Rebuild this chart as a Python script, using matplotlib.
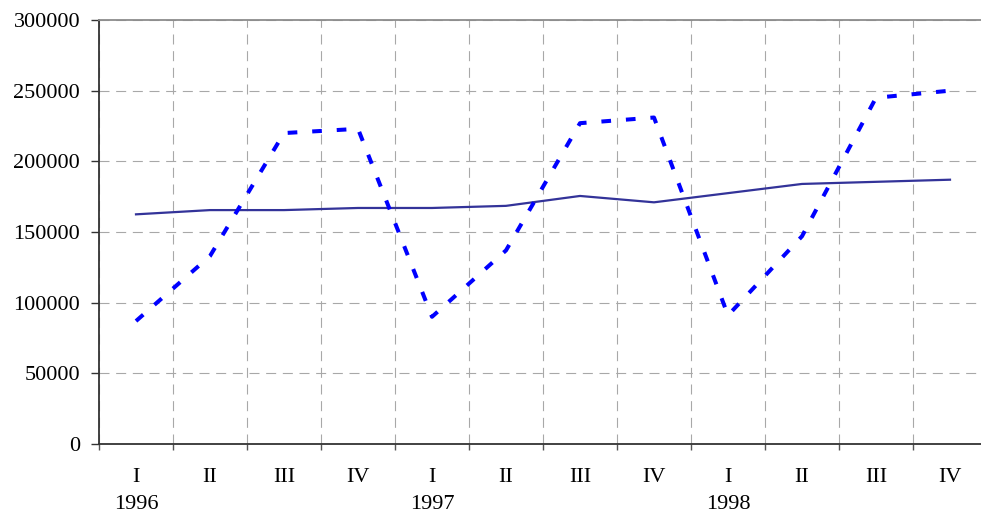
import numpy as np
import matplotlib
matplotlib.use("Agg")
import matplotlib.pyplot as plt
from matplotlib.ticker import FixedLocator, NullFormatter

plt.rcParams["font.family"] = ["Liberation Serif", "DejaVu Serif"]

# quarterly data, 1996-1998
quarters = ["I", "II", "III", "IV"] * 3
years = ["1996", "1997", "1998"]
seasonal = [87000, 133000, 220000, 223000,
            90000, 137000, 227000, 231000,
            91000, 147000, 245000, 250000]
trend = [162500, 165500, 165500, 167000,
         167000, 168500, 175500, 171000,
         177500, 184000, 185500, 187000]
y_ticks = [0, 50000, 100000, 150000, 200000, 250000, 300000]

fig = plt.figure(figsize=(9.81, 5.14), dpi=100)
ax = fig.add_axes([99 / 981, 70 / 514, 888 / 981, 424 / 514])

x = np.arange(len(quarters))
ax.set_xlim(-0.5, len(quarters) - 0.5)
ax.set_ylim(0, 300000)

# y ticks, category boundaries as major x ticks, labels on minor ticks
ax.set_yticks(y_ticks)
ax.set_yticklabels([str(v) for v in y_ticks])
ax.xaxis.set_major_locator(FixedLocator(np.arange(-0.5, len(quarters), 1.0)))
ax.xaxis.set_major_formatter(NullFormatter())
labels = []
for i, q in enumerate(quarters):
    labels.append(q + "\n" + years[i // 4] if q == "I" else q)
ax.set_xticks(x, labels, minor=True)
ax.grid(True, which="major", axis="both", color="#A8A8A8", lw=0.8,
        linestyle=(0, (9, 6)))
ax.set_axisbelow(True)

ax.plot(x, trend, color="#333399", lw=1.6, solid_joinstyle="round", zorder=3)
ax.plot(x, seasonal, color="#0000FF", lw=2.9, linestyle=(0, (2.4, 3.7)),
        dash_capstyle="butt", zorder=4)

for side in ("left", "bottom"):
    ax.spines[side].set_color("#333333")
    ax.spines[side].set_linewidth(1.3)
ax.spines["top"].set_color("#8C8C8C")
ax.spines["top"].set_linewidth(1.3)
ax.spines["right"].set_visible(False)

ax.tick_params(axis="y", which="major", direction="out", length=5.5,
               width=1.0, color="#333333", pad=8, labelsize=16)
ax.tick_params(axis="x", which="major", direction="out", length=4,
               width=1.0, color="#555555")
ax.tick_params(axis="x", which="minor", length=0, pad=17, labelsize=16)
for lab in ax.get_xticklabels(minor=True):
    lab.set_linespacing(1.6)

fig.savefig("out.png", dpi=100)
